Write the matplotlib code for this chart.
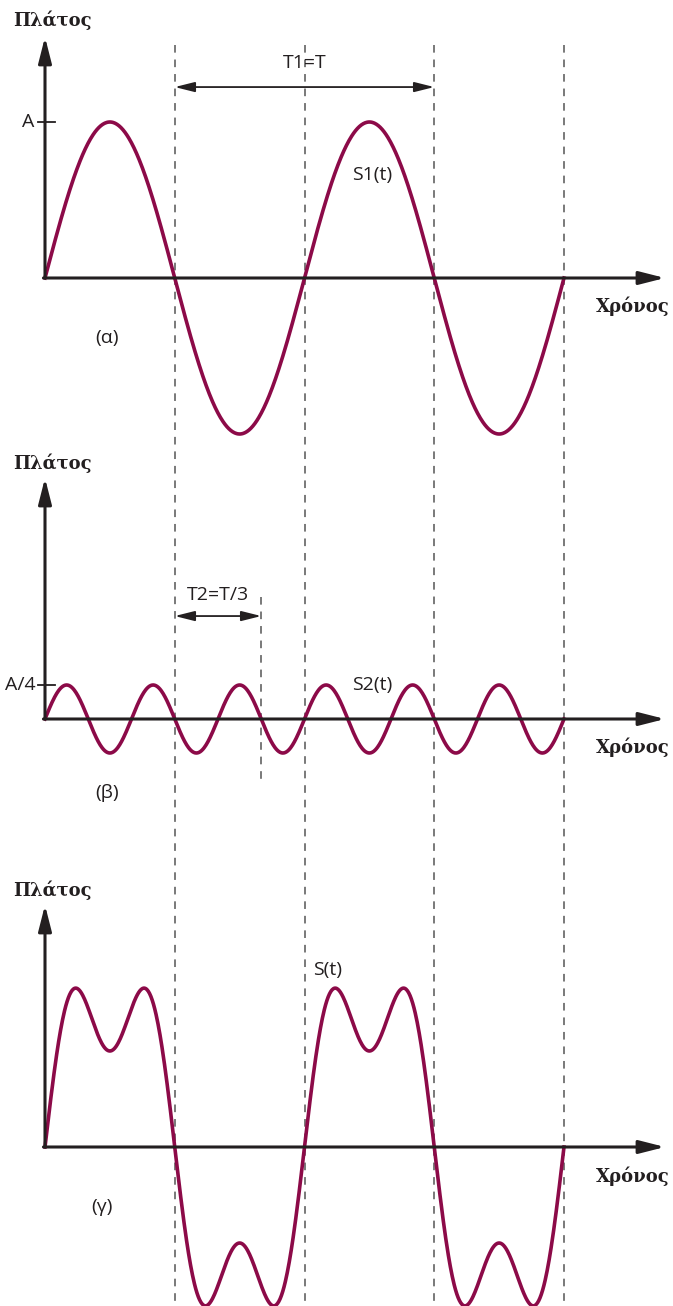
import numpy as np
import matplotlib.pyplot as plt
from matplotlib.transforms import blended_transform_factory

# time in units of the period T, amplitude in units of A
t = np.linspace(0, 2, 800)
A1 = 1.0            # S1 amplitude
A2 = 0.25           # S2 amplitude (A/4)
F2 = 3              # S2 frequency (T2 = T/3)
A3 = [1.0, 0.4]     # components drawn in S(t)
periods_marked = [0.5, 1.0, 1.5, 2.0]   # dashed guides (in T)

s1 = A1 * np.sin(2 * np.pi * t)
s2 = A2 * np.sin(2 * np.pi * F2 * t)
s3 = A3[0] * np.sin(2 * np.pi * t) + A3[1] * np.sin(2 * np.pi * F2 * t)

W, H = 673, 1306
PX_T = 259.5        # pixels per period
X0 = 45             # pixel of t = 0
CURVE = '#8c0a48'
INK = '#231f20'
GUIDE = '#555555'
sans = 'Open Sans'
serif = 'DejaVu Serif'
FS = 14

fig = plt.figure(figsize=(W / 100, H / 100), dpi=100)


def panel(top, bottom, zero, scale):
    ax = fig.add_axes([0, 1 - bottom / H, 1, (bottom - top) / H])
    ax.set_xlim(-X0 / PX_T, (W - X0) / PX_T)
    ax.set_ylim(-(bottom - zero) / scale, (zero - top) / scale)
    ax.axis('off')
    ax.patch.set_visible(False)
    return ax


def axes_arrows(ax, ytop):
    ax.annotate('', xy=((665 - X0) / PX_T, 0), xytext=(-0.006, 0),
                arrowprops=dict(arrowstyle='-|>,head_length=1.3,head_width=0.33',
                                mutation_scale=12, lw=2.2, color=INK,
                                shrinkA=0, shrinkB=0))
    ax.annotate('', xy=(0, ytop), xytext=(0, 0),
                arrowprops=dict(arrowstyle='-|>,head_length=1.3,head_width=0.33',
                                mutation_scale=12, lw=2.2, color=INK,
                                shrinkA=0, shrinkB=0))


def span_arrow(ax, x0, x1, y):
    ax.annotate('', xy=(x1, y), xytext=(x0, y),
                arrowprops=dict(arrowstyle='<|-|>,head_length=1.0,head_width=0.25',
                                mutation_scale=12, lw=1.3, color=INK,
                                shrinkA=0, shrinkB=0))


def label(ax, x, y, s, ha='center'):
    ax.text(x, y, s, ha=ha, va='center', fontsize=FS, family=sans, color=INK)


def bold(ax, x, y, s):
    ax.text(x, y, s, ha='center', va='center', fontsize=13,
            family=serif, weight='bold', color=INK)


ax1 = panel(0, 450, 278, 156)
ax2 = panel(450, 830, 719, 136)
ax3 = panel(830, 1306, 1147, 160)

# dashed guides through all three panels
tr = blended_transform_factory(ax1.transData, fig.transFigure)
for p in periods_marked:
    ax1.plot([p, p], [1 - 45 / H, 0], transform=tr, color=GUIDE, lw=1.1,
             ls=(0, (5, 4.5)), clip_on=False, zorder=0)

# (α)
ax1.plot(t, s1, color=CURVE, lw=2.6, clip_on=False, zorder=3)
axes_arrows(ax1, 1.545)
ax1.plot([-0.027, 0.039], [A1, A1], color=INK, lw=1.3)
label(ax1, -0.04, A1, 'A', ha='right')
bold(ax1, 0.027, 1.654, 'Πλάτος')
bold(ax1, 2.266, -0.18, 'Χρόνος')
span_arrow(ax1, 0.5, 1.5, 1.224)
label(ax1, 1.0, 1.378, 'T1=T')
label(ax1, 1.26, 0.66, 'S1(t)')
label(ax1, 0.239, -0.385, '(α)')

# (β)
ax2.plot(t, s2, color=CURVE, lw=2.6, clip_on=False, zorder=3)
axes_arrows(ax2, 1.772)
ax2.plot([-0.027, 0.039], [A2, A2], color=INK, lw=1.3)
label(ax2, -0.035, A2, 'A/4', ha='right')
bold(ax2, 0.027, 1.882, 'Πλάτος')
bold(ax2, 2.266, -0.206, 'Χρόνος')
t2_end = 0.5 + 1 / F2
ax2.plot([t2_end, t2_end], [0.897, -0.485], color=GUIDE, lw=1.1,
         ls=(0, (5, 4.5)), zorder=0)
span_arrow(ax2, 0.5, t2_end, 0.757)
label(ax2, (0.5 + t2_end) / 2, 0.912, 'T2=T/3')
label(ax2, 1.26, A2, 'S2(t)')
label(ax2, 0.239, -0.544, '(β)')

# (γ)
ax3.plot(t, s3, color=CURVE, lw=2.6, clip_on=False, zorder=3)
axes_arrows(ax3, 1.5125)
bold(ax3, 0.027, 1.606, 'Πλάτος')
bold(ax3, 2.266, -0.181, 'Χρόνος')
label(ax3, 1.087, 1.106, 'S(t)')
label(ax3, 0.22, -0.375, '(γ)')

fig.savefig('out.png', dpi=100)
